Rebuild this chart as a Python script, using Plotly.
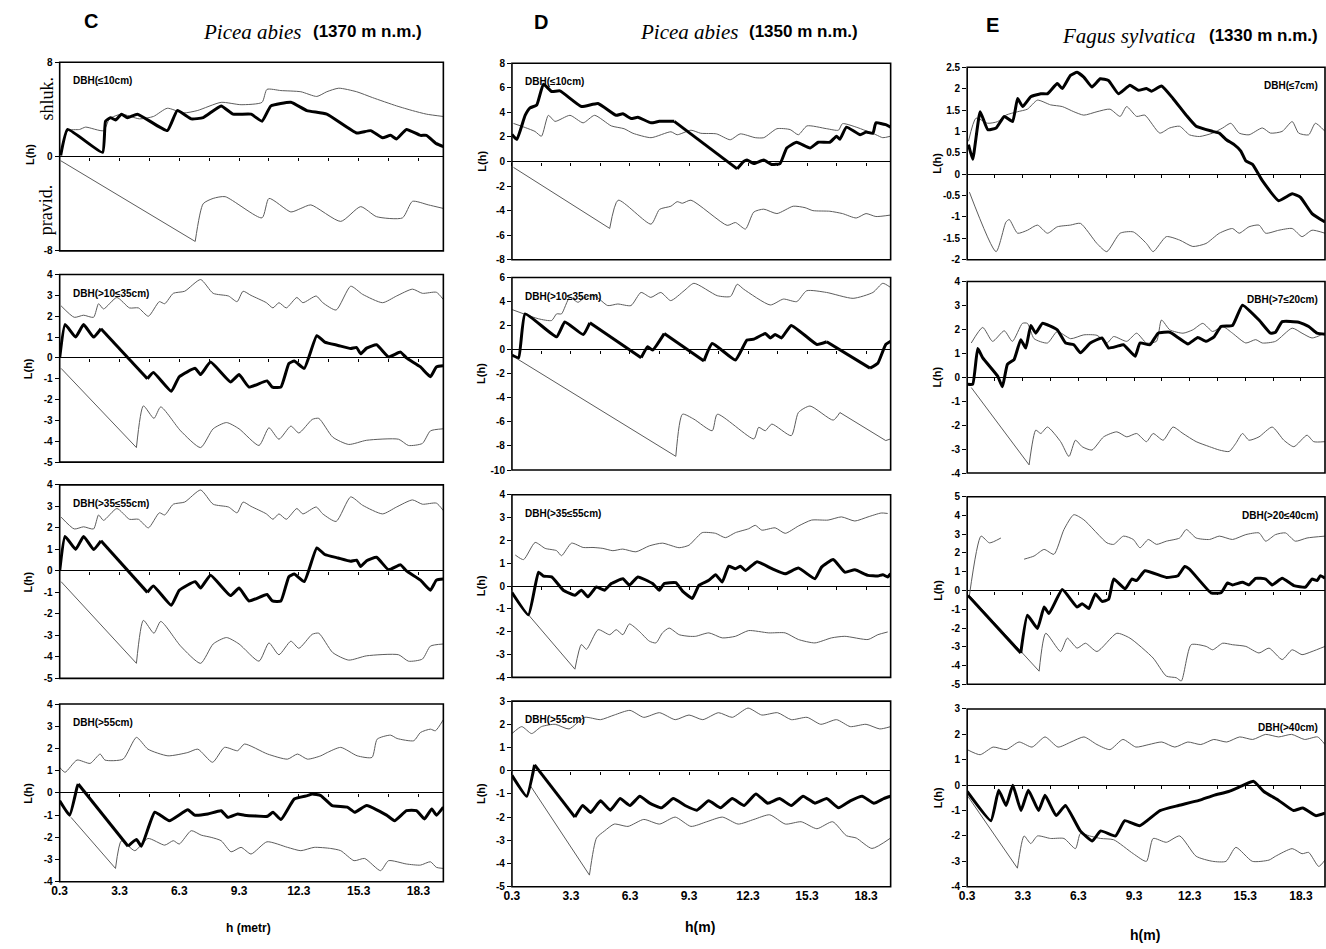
import plotly.graph_objects as go

W, H = 1326, 949
SANS = "Liberation Sans, Arial, sans-serif"
SERIF = "Liberation Serif, Times New Roman, serif"

# ---------------- data (h in metres, L(h)) ----------------
# Column C : Picea abies (1370 m n.m.)
C1_L_x = [0.35, 0.7, 2.45, 2.6, 2.85, 3.1, 3.4, 3.7, 4.2, 5.7, 6.2, 6.9, 7.5, 8.4, 9.0, 9.9, 10.45, 10.9, 11.9, 12.7, 13.7, 15.2, 15.9, 16.5, 16.9, 17.2, 17.7, 18.4, 18.7, 19.2, 19.55]
C1_L_y = [0.1, 2.3, 0.35, 3.0, 3.3, 3.1, 3.6, 3.3, 3.6, 2.2, 3.9, 3.2, 3.3, 4.3, 3.6, 3.6, 3.0, 4.3, 4.6, 3.9, 3.6, 2.0, 2.2, 1.6, 1.8, 1.5, 2.3, 1.8, 1.8, 1.1, 0.85]
C1_up_x = [0.4, 0.7, 1.3, 1.6, 2.5, 2.8, 3.4, 4.3, 5.0, 5.7, 6.5, 7.2, 8.4, 9.4, 10.45, 10.7, 11.4, 12.4, 13.2, 13.7, 14.3, 15.2, 16.0, 17.2, 18.0, 18.7, 19.55]
C1_up_y = [0.5, 2.2, 2.3, 2.5, 2.2, 3.2, 3.6, 3.2, 3.4, 4.1, 3.7, 3.9, 4.6, 4.4, 4.6, 5.7, 5.6, 5.5, 5.1, 5.5, 5.8, 5.5, 5.0, 4.3, 3.9, 3.6, 3.4]
C1_lo_x = [0.35, 7.1, 7.5, 8.0, 8.6, 10.45, 10.8, 11.9, 12.4, 12.9, 14.4, 15.4, 16.2, 17.5, 18.0, 18.8, 19.55]
C1_lo_y = [-0.35, -7.2, -4.0, -3.55, -3.4, -5.2, -3.55, -4.7, -4.4, -4.1, -5.5, -4.25, -5.1, -5.2, -3.8, -4.1, -4.4]

C2_L_x = [0.3, 0.57, 1.1, 1.5, 2.0, 2.37, 4.7, 5.0, 5.9, 6.3, 7.1, 7.37, 7.87, 8.87, 9.3, 9.8, 10.7, 10.97, 11.4, 11.8, 12.07, 12.57, 13.2, 13.6, 14.27, 14.9, 15.2, 15.4, 15.7, 16.2, 16.8, 17.4, 17.7, 18.4, 18.9, 19.2, 19.55]
C2_L_y = [0, 1.6, 1.0, 1.6, 1.0, 1.4, -1.0, -0.7, -1.6, -0.9, -0.5, -0.8, -0.2, -1.15, -0.8, -1.4, -1.1, -1.4, -1.4, -0.27, -0.15, -0.5, 1.07, 0.76, 0.6, 0.45, 0.5, 0.2, 0.47, 0.63, 0.05, 0.28, 0, -0.43, -0.9, -0.43, -0.38]
C2_up_x = [0.37, 1.03, 1.5, 2.0, 2.25, 2.5, 3.17, 3.8, 4.25, 4.75, 5.3, 5.57, 6.0, 6.57, 7.37, 8.0, 8.77, 9.2, 9.5, 9.9, 10.67, 11.0, 11.3, 11.67, 12.2, 12.5, 13.17, 13.5, 14.17, 14.9, 15.5, 16.5, 17.2, 18.0, 18.5, 19.2, 19.55]
C2_up_y = [2.5, 1.95, 2.05, 1.95, 2.6, 2.35, 2.9, 2.4, 2.4, 2.0, 2.7, 2.6, 3.1, 3.2, 3.76, 3.1, 2.97, 2.7, 3.2, 3.0, 2.65, 2.4, 2.65, 2.4, 2.9, 2.65, 2.97, 2.65, 2.3, 3.44, 3.05, 2.65, 2.97, 3.3, 3.1, 3.15, 2.8]
C2_lo_x = [0.37, 4.15, 4.5, 5.03, 5.37, 6.37, 7.37, 8.0, 8.67, 9.3, 10.3, 10.8, 11.3, 11.9, 12.3, 12.97, 13.3, 14.0, 14.8, 15.7, 17.3, 17.8, 18.5, 18.9, 19.55]
C2_lo_y = [-0.5, -4.3, -2.3, -2.9, -2.35, -3.5, -4.3, -3.4, -3.1, -3.4, -4.2, -3.35, -3.9, -3.27, -3.6, -2.95, -2.9, -3.8, -4.15, -3.95, -3.9, -4.2, -4.1, -3.5, -3.4]

# the third C panel repeats the second one in the source figure
C3_L_x, C3_L_y = C2_L_x, C2_L_y
C3_up_x, C3_up_y = C2_up_x, C2_up_y
C3_lo_x, C3_lo_y = C2_lo_x, C2_lo_y

C4_L_x = [0.3, 0.8, 1.17, 1.23, 3.73, 4.15, 4.4, 5.07, 5.8, 6.73, 7.07, 7.73, 8.4, 8.73, 9.23, 9.57, 10.73, 11.0, 11.4, 12.07, 12.73, 12.97, 13.4, 13.97, 14.73, 15.1, 15.7, 16.7, 17.1, 17.7, 18.2, 18.6, 18.97, 19.2, 19.55]
C4_L_y = [-0.35, -1.0, 0.25, 0.4, -2.4, -2.1, -2.4, -0.87, -1.25, -0.76, -1.0, -0.95, -0.8, -1.1, -0.95, -1.0, -1.05, -0.87, -1.2, -0.27, -0.12, -0.05, -0.12, -0.57, -0.64, -0.87, -0.57, -1.0, -1.25, -0.8, -0.8, -1.17, -0.72, -1.0, -0.64]
C4_up_x = [0.3, 0.57, 1.17, 1.83, 2.33, 2.57, 3.48, 4.15, 4.73, 5.73, 6.73, 7.23, 7.97, 8.57, 9.23, 9.57, 10.73, 11.73, 12.23, 12.73, 13.4, 13.73, 14.4, 15.23, 15.97, 16.23, 16.9, 17.23, 18.07, 18.4, 18.9, 19.15, 19.55]
C4_up_y = [1.15, 0.93, 1.48, 1.33, 1.75, 1.48, 1.52, 2.5, 1.97, 1.67, 1.82, 1.97, 1.38, 2.05, 1.9, 2.2, 1.75, 1.52, 1.75, 1.52, 1.67, 1.82, 2.05, 1.67, 1.6, 2.42, 2.6, 2.45, 2.35, 2.72, 2.87, 2.8, 3.3]
C4_lo_x = [0.87, 3.1, 3.4, 4.07, 4.73, 5.57, 6.0, 6.3, 6.9, 7.4, 7.9, 8.4, 8.9, 9.4, 9.9, 10.7, 11.73, 12.4, 13.07, 13.9, 14.4, 15.07, 15.6, 16.4, 16.8, 17.7, 18.4, 18.9, 19.2, 19.55]
C4_lo_y = [-1.1, -3.4, -2.15, -2.6, -2.05, -2.35, -2.15, -2.3, -1.7, -1.9, -2.0, -2.15, -2.65, -2.45, -2.75, -2.2, -2.45, -2.6, -2.45, -2.5, -2.6, -3.05, -2.95, -3.5, -3.05, -3.2, -3.25, -3.1, -3.35, -3.4]

# Column D : Picea abies (1350 m n.m.)
D1_L_x = [0.3, 0.55, 0.97, 1.22, 1.56, 1.9, 2.32, 2.74, 3.83, 4.67, 5.6, 5.94, 6.36, 6.7, 7.37, 7.79, 8.55, 11.75, 12.08, 12.25, 12.59, 13.1, 13.5, 13.93, 14.27, 14.77, 15.45, 15.87, 16.46, 16.8, 16.97, 17.3, 18.0, 18.3, 18.65, 18.8, 19.3, 19.55]
D1_L_y = [2.2, 1.8, 3.75, 4.36, 4.6, 6.3, 5.7, 5.75, 4.48, 4.73, 3.76, 3.88, 3.5, 3.6, 3.15, 3.27, 3.27, -0.6, 0, 0.12, -0.17, 0.12, -0.24, -0.17, 1.1, 1.57, 1.1, 1.57, 1.57, 2.06, 1.82, 2.8, 2.18, 2.4, 2.3, 3.15, 3.0, 2.8]
D1_up_x = [0.38, 1.0, 1.47, 1.8, 2.15, 2.49, 3.25, 3.92, 4.5, 5.35, 6.0, 6.45, 7.37, 8.38, 8.7, 9.4, 9.9, 10.7, 11.4, 11.9, 12.67, 13.1, 13.77, 14.44, 14.86, 15.3, 16.3, 16.9, 17.1, 17.8, 18.8, 19.15, 19.55]
D1_up_y = [3.1, 2.75, 2.45, 2.06, 3.76, 3.27, 3.76, 3.15, 3.76, 2.9, 2.67, 2.3, 1.94, 2.42, 2.18, 2.55, 2.3, 2.25, 1.77, 2.25, 1.94, 1.94, 2.67, 2.6, 2.18, 2.9, 2.67, 2.55, 3.08, 2.8, 2.18, 1.94, 2.06]
D1_lo_x = [0.38, 5.27, 5.7, 7.37, 7.8, 8.38, 8.7, 8.96, 9.4, 11.24, 11.66, 12.17, 12.59, 13.1, 13.77, 14.6, 15.2, 15.6, 16.46, 17.1, 17.8, 18.3, 18.8, 19.55]
D1_lo_y = [-0.48, -5.45, -3.15, -5.1, -3.9, -3.64, -3.27, -3.4, -3.15, -5.2, -4.97, -5.5, -4.12, -3.88, -4.24, -3.64, -3.76, -4.0, -4.05, -4.24, -4.6, -4.24, -4.48, -4.36]

D2_L_x = [0.3, 0.64, 0.97, 2.57, 2.99, 3.92, 4.26, 6.87, 7.2, 7.45, 8.04, 10.06, 10.48, 11.66, 12.25, 12.6, 13.18, 13.43, 13.68, 14.0, 14.5, 15.8, 16.3, 18.5, 18.9, 19.3, 19.55]
D2_L_y = [-0.44, -0.66, 2.98, 1.07, 2.3, 1.26, 2.24, -0.66, 0.25, -0.03, 1.34, -0.93, 0.52, -0.85, 0.8, 0.88, 1.34, 0.98, 1.26, 0.98, 2.02, 0.44, 0.66, -1.53, -1.12, 0.44, 0.7]
D2_up_x = [0.3, 1.65, 2.32, 2.57, 2.82, 3.24, 3.66, 4.0, 4.5, 5.17, 5.68, 6.35, 6.86, 7.36, 7.87, 8.37, 9.05, 9.55, 10.74, 11.41, 11.75, 12.08, 13.43, 14.1, 14.78, 15.28, 16.29, 17.64, 18.65, 19.15, 19.55]
D2_up_y = [3.34, 2.57, 2.43, 2.98, 2.98, 4.35, 3.94, 4.35, 4.49, 3.67, 3.8, 3.67, 4.76, 4.35, 4.76, 4.08, 4.9, 5.52, 4.49, 4.43, 5.44, 5.03, 3.72, 4.21, 4.0, 4.9, 4.76, 4.27, 4.76, 5.52, 5.17]
D2_lo_x = [0.47, 8.63, 8.97, 9.55, 10.48, 10.74, 12.6, 12.84, 13.18, 13.51, 14.5, 14.86, 15.45, 16.63, 16.97, 19.3, 19.55]
D2_lo_y = [-0.66, -8.86, -5.36, -5.77, -6.73, -5.36, -7.41, -6.45, -6.73, -6.18, -7.14, -5.22, -4.68, -5.85, -5.22, -7.55, -7.41]

D3_L_x = [0.3, 1.14, 1.65, 1.9, 2.32, 2.91, 3.5, 3.83, 4.17, 4.59, 5.01, 5.35, 5.94, 6.27, 6.7, 7.45, 7.79, 8.04, 8.63, 8.97, 9.47, 9.81, 10.31, 10.65, 10.99, 11.32, 11.66, 11.92, 12.17, 12.76, 13.52, 14.19, 14.86, 15.7, 16.04, 16.63, 17.22, 17.73, 18.4, 18.9, 19.15, 19.4, 19.55]
D3_L_y = [-0.28, -1.26, 0.61, 0.44, 0.4, -0.18, -0.4, -0.18, -0.47, -0.04, -0.18, 0.11, 0.32, 0.04, 0.4, 0.11, -0.18, 0.11, 0.15, -0.22, -0.54, 0.04, 0.25, 0.5, 0.18, 0.87, 0.76, 0.87, 0.68, 1.07, 0.76, 0.54, 0.79, 0.32, 0.83, 1.16, 0.61, 0.71, 0.47, 0.44, 0.5, 0.4, 0.54]
D3_up_x = [0.47, 0.89, 1.48, 1.99, 2.57, 2.82, 3.33, 3.92, 4.42, 4.92, 5.43, 5.93, 6.6, 7.28, 7.95, 8.8, 9.3, 9.64, 9.97, 10.65, 11.15, 11.66, 12.33, 12.67, 13.0, 13.68, 14.19, 14.86, 15.53, 16.37, 17.05, 17.73, 18.4, 19.07, 19.4]
D3_up_y = [1.36, 1.16, 1.91, 1.65, 1.55, 1.33, 1.88, 1.69, 1.69, 1.65, 1.55, 1.62, 1.5, 1.76, 1.88, 1.68, 1.79, 2.08, 2.34, 2.31, 2.12, 2.34, 2.51, 2.66, 2.45, 2.55, 2.31, 2.63, 2.89, 2.89, 3.03, 2.85, 3.03, 3.2, 3.18]
D3_lo_x = [1.14, 3.5, 3.83, 4.09, 4.68, 5.27, 5.6, 5.94, 6.27, 6.77, 7.28, 7.62, 7.95, 8.29, 8.8, 9.3, 9.64, 10.31, 10.99, 11.66, 12.33, 13.35, 14.19, 14.86, 15.7, 16.54, 17.22, 18.4, 18.9, 19.4]
D3_lo_y = [-1.26, -3.64, -2.56, -2.77, -1.91, -2.13, -1.91, -2.13, -1.66, -1.98, -2.41, -2.49, -2.05, -1.84, -2.13, -2.2, -2.2, -2.05, -2.27, -2.2, -1.95, -2.05, -2.05, -2.34, -2.49, -2.27, -2.2, -2.34, -2.13, -2.01]

D4_L_x = [0.3, 1.05, 1.45, 3.5, 3.9, 4.3, 4.8, 5.3, 5.8, 6.3, 6.8, 7.3, 7.9, 8.5, 9.1, 9.7, 10.3, 10.9, 11.5, 12.1, 12.7, 13.3, 13.9, 14.5, 15.1, 15.7, 16.3, 16.9, 17.5, 18.1, 18.7, 19.2, 19.55]
D4_L_y = [-0.2, -1.1, 0.25, -2.0, -1.5, -1.8, -1.3, -1.7, -1.2, -1.5, -1.1, -1.4, -1.6, -1.2, -1.5, -1.7, -1.3, -1.6, -1.2, -1.5, -1.0, -1.4, -1.2, -1.5, -1.1, -1.4, -1.2, -1.6, -1.3, -1.1, -1.4, -1.2, -1.1]
D4_up_x = [0.3, 0.8, 1.3, 1.8, 2.5, 3.2, 4.0, 4.8, 5.5, 6.3, 7.0, 7.8, 8.6, 9.3, 10.0, 10.8, 11.5, 12.3, 13.0, 13.8, 14.5, 15.3, 16.0, 16.8, 17.5, 18.3, 19.0, 19.55]
D4_up_y = [1.6, 1.9, 1.6, 1.9, 2.0, 1.8, 2.3, 2.2, 2.4, 2.6, 2.3, 2.5, 2.2, 2.4, 2.2, 2.5, 2.3, 2.7, 2.4, 2.5, 2.2, 2.3, 2.0, 2.2, 1.9, 2.0, 1.8, 1.9]
D4_lo_x = [1.2, 4.24, 4.6, 5.0, 5.5, 6.2, 7.0, 7.8, 8.6, 9.4, 10.2, 11.0, 11.8, 12.6, 13.4, 14.2, 15.0, 15.8, 16.6, 17.3, 17.8, 18.6, 19.55]
D4_lo_y = [-0.6, -4.5, -2.9, -2.6, -2.3, -2.4, -2.1, -2.3, -2.0, -2.4, -2.2, -2.0, -2.3, -2.1, -1.9, -2.3, -2.2, -2.5, -2.2, -2.8, -2.9, -3.35, -2.9]

# Column E : Fagus sylvatica (1330 m n.m.)
E1_L_x = [0.37, 0.6, 1.0, 1.41, 1.86, 2.3, 2.75, 3.02, 3.29, 3.73, 4.27, 4.63, 5.16, 5.43, 5.87, 6.23, 6.59, 7.03, 7.48, 7.92, 8.46, 9.08, 9.53, 9.97, 10.24, 10.78, 11.4, 12.11, 12.65, 13.54, 13.9, 14.26, 14.7, 15.06, 15.33, 15.69, 16.22, 17.11, 17.83, 18.27, 18.9, 19.6]
E1_L_y = [0.69, 0.35, 1.46, 1.04, 1.08, 1.35, 1.23, 1.77, 1.58, 1.81, 1.88, 1.88, 2.12, 2.0, 2.31, 2.38, 2.27, 2.04, 2.23, 2.19, 1.88, 2.08, 1.96, 2.0, 1.94, 2.06, 1.77, 1.38, 1.12, 1.0, 0.96, 0.81, 0.69, 0.54, 0.31, 0.23, -0.15, -0.62, -0.46, -0.54, -0.92, -1.12]
E1_up_x = [0.37, 0.78, 1.41, 1.95, 2.39, 3.02, 3.55, 4.09, 4.8, 5.43, 6.05, 6.59, 7.3, 8.0, 8.55, 8.9, 9.44, 9.88, 10.69, 11.22, 11.76, 12.29, 12.83, 13.54, 14.08, 14.52, 14.97, 15.5, 16.22, 16.66, 17.29, 17.83, 18.18, 18.72, 19.08, 19.6]
E1_up_y = [0.77, 1.31, 1.19, 1.23, 1.38, 1.46, 1.52, 1.73, 1.62, 1.58, 1.46, 1.38, 1.46, 1.52, 1.35, 1.58, 1.35, 1.38, 0.96, 1.08, 1.12, 0.92, 0.88, 0.96, 1.08, 1.19, 0.96, 0.92, 1.08, 0.96, 1.0, 1.23, 0.96, 0.92, 1.19, 1.0]
E1_lo_x = [0.42, 1.86, 2.39, 2.57, 3.02, 3.55, 4.09, 4.63, 5.16, 5.87, 6.41, 7.3, 7.83, 8.55, 9.26, 9.97, 10.33, 11.04, 11.76, 12.47, 13.18, 13.9, 14.61, 14.97, 15.5, 16.04, 16.4, 17.11, 17.83, 18.36, 18.9, 19.6]
E1_lo_y = [-0.42, -1.81, -1.12, -1.06, -1.38, -1.31, -1.19, -1.38, -1.23, -1.19, -1.15, -1.62, -1.81, -1.38, -1.35, -1.62, -1.81, -1.46, -1.54, -1.69, -1.62, -1.38, -1.27, -1.38, -1.23, -1.19, -1.38, -1.31, -1.27, -1.46, -1.31, -1.38]

E2_L_x = [0.34, 0.6, 0.87, 1.14, 1.94, 2.2, 2.47, 2.83, 3.19, 3.46, 3.73, 4.0, 4.36, 5.16, 5.61, 6.05, 6.41, 6.94, 7.57, 7.93, 8.37, 8.73, 9.36, 9.62, 10.16, 10.6, 11.23, 11.67, 12.21, 12.74, 13.19, 13.63, 13.99, 14.61, 15.15, 16.04, 16.66, 16.93, 17.29, 18.18, 18.72, 19.17, 19.6]
E2_L_y = [-0.29, -0.29, 1.2, 0.81, 0.05, -0.4, 0.54, 0.74, 1.57, 1.22, 2.16, 1.84, 2.25, 1.98, 1.43, 1.36, 1.02, 1.43, 1.64, 1.22, 1.29, 1.36, 0.88, 1.43, 1.36, 1.84, 1.88, 1.66, 1.39, 1.66, 1.5, 1.7, 2.12, 2.16, 3.01, 2.39, 1.84, 1.88, 2.32, 2.3, 2.12, 1.84, 1.8]
E2_up_x = [0.52, 1.14, 1.67, 2.3, 2.74, 3.28, 3.55, 3.91, 4.63, 5.16, 5.88, 6.59, 7.3, 7.84, 8.2, 8.91, 9.44, 9.97, 10.51, 10.78, 11.23, 11.94, 12.47, 13.01, 13.54, 14.08, 14.61, 15.33, 15.86, 16.22, 16.93, 17.83, 18.36, 18.9, 19.6]
E2_up_y = [1.43, 2.08, 1.5, 1.94, 1.5, 2.25, 2.25, 1.61, 1.43, 1.91, 1.61, 1.77, 1.75, 1.43, 1.7, 1.5, 1.84, 1.43, 1.5, 2.39, 1.98, 1.84, 1.98, 2.25, 1.91, 2.12, 1.84, 1.43, 1.57, 1.43, 1.5, 2.05, 1.84, 1.64, 1.84]
E2_lo_x = [0.52, 3.64, 4.0, 4.27, 4.63, 5.34, 5.79, 6.14, 6.5, 7.03, 7.66, 8.37, 8.91, 9.44, 9.97, 10.33, 10.87, 11.4, 11.94, 12.65, 13.37, 13.9, 14.43, 14.79, 15.15, 15.5, 16.04, 16.75, 17.38, 17.92, 18.63, 18.99, 19.6]
E2_lo_y = [-0.43, -3.66, -2.21, -2.35, -2.08, -2.69, -3.31, -2.63, -2.9, -3.04, -2.49, -2.28, -2.49, -2.35, -2.69, -2.35, -2.63, -2.08, -2.35, -2.69, -2.9, -3.04, -3.1, -2.76, -2.35, -2.63, -2.49, -2.08, -2.63, -2.9, -2.42, -2.69, -2.69]

E3_L_x = [0.34, 3.19, 3.55, 4.09, 4.45, 4.71, 5.43, 6.23, 6.5, 6.86, 7.21, 7.57, 7.93, 8.2, 8.82, 9.18, 9.44, 9.89, 11.04, 11.67, 12.03, 12.29, 13.45, 13.99, 14.34, 14.61, 15.15, 15.5, 15.86, 16.4, 16.75, 17.29, 17.92, 18.54, 18.9, 19.17, 19.35, 19.6]
E3_L_y = [-0.26, -3.33, -1.32, -2.02, -0.88, -1.23, 0.05, -0.88, -0.7, -0.96, -0.18, -0.58, -0.47, 0.61, 0.09, 0.61, 0.53, 1.05, 0.7, 0.79, 1.28, 1.14, -0.12, -0.12, 0.4, 0.3, 0.44, 0.3, 0.65, 0.61, 0.3, 0.65, 0.26, 0.18, 0.61, 0.53, 0.79, 0.65]
E3_up_x = [0.42, 1.05, 1.5, 2.12, 2.7, 3.37, 3.91, 4.45, 4.98, 5.52, 6.05, 6.59, 7.84, 8.2, 8.73, 9.26, 9.62, 10.07, 10.51, 11.04, 11.76, 12.12, 12.65, 13.37, 13.9, 14.61, 15.33, 16.04, 16.4, 16.93, 17.47, 18.0, 18.63, 19.6]
E3_up_y = [-0.26, 2.9, 2.54, 2.8, None, 1.67, 1.84, 2.19, 1.93, 3.25, 4.04, 3.77, 2.54, 2.46, 2.9, 2.72, 2.28, 2.72, 2.46, 2.63, 2.8, 3.25, 2.8, 2.72, 2.9, 2.72, 2.98, 3.07, 2.63, 2.98, 3.07, 2.63, 2.8, 2.9]
E3_lo_x = [0.42, 4.18, 4.54, 5.34, 5.7, 6.23, 6.68, 7.3, 8.37, 9.08, 10.33, 11.04, 11.58, 11.85, 12.38, 13.19, 13.54, 14.08, 14.61, 15.33, 16.04, 16.58, 17.29, 17.83, 18.36, 18.9, 19.6]
E3_lo_y = [-0.26, -4.3, -2.28, -3.25, -2.54, -3.07, -2.81, -3.25, -2.28, -2.54, -3.6, -4.56, -4.65, -4.82, -2.89, -2.98, -3.16, -2.81, -2.89, -2.98, -3.33, -3.07, -3.68, -3.16, -3.42, -3.25, -2.98]

E4_L_x = [0.3, 1.58, 2.0, 2.4, 2.76, 3.2, 3.6, 4.15, 4.5, 5.1, 5.6, 6.4, 7.05, 7.5, 8.3, 8.8, 9.6, 10.7, 11.7, 12.8, 13.6, 14.4, 15.2, 15.75, 16.3, 17.1, 17.9, 18.4, 19.1, 19.6]
E4_L_y = [-0.25, -1.4, -0.2, -0.8, 0, -1.0, -0.2, -1.0, -0.4, -1.2, -0.8, -1.8, -2.2, -1.8, -2.0, -1.4, -1.6, -1.0, -0.8, -0.6, -0.4, -0.25, 0, 0.15, -0.25, -0.6, -1.0, -0.9, -1.2, -1.1]
E4_up_x = [0.3, 1.0, 1.7, 2.4, 3.1, 3.8, 4.5, 5.2, 5.9, 6.6, 7.3, 8.0, 8.7, 9.4, 10.1, 10.8, 11.5, 12.2, 12.9, 13.6, 14.3, 15.0, 15.7, 16.4, 17.1, 17.8, 18.5, 19.2, 19.6]
E4_up_y = [1.4, 1.2, 1.5, 1.4, 1.7, 1.5, 1.9, 1.5, 1.7, 1.9, 1.6, 1.4, 1.8, 1.5, 1.6, 1.7, 1.5, 1.7, 1.6, 1.8, 1.7, 1.9, 1.8, 2.0, 1.9, 2.0, 1.8, 1.9, 1.6]
E4_lo_x = [0.3, 3.01, 3.37, 3.73, 4.09, 4.8, 5.52, 6.14, 6.41, 6.9, 7.5, 8.2, 9.26, 9.97, 10.33, 11.04, 11.76, 12.65, 13.54, 14.26, 14.79, 15.68, 16.58, 16.93, 17.83, 18.36, 18.72, 19.26, 19.6]
E4_lo_y = [-0.4, -3.27, -2.0, -2.3, -2.0, -2.1, -2.1, -2.5, -1.9, -2.0, -2.1, -2.15, -2.7, -3.0, -2.1, -2.25, -2.0, -2.8, -3.0, -3.0, -2.45, -3.0, -2.95, -2.8, -2.5, -2.7, -2.65, -3.2, -2.95]

X_TICKS = [0.3, 3.3, 6.3, 9.3, 12.3, 15.3, 18.3]
Y_RANGES = [
    [(-8, 8), (-5, 4), (-5, 4), (-4, 4)],
    [(-8, 8), (-10, 6), (-4, 4), (-5, 3)],
    [(-2, 2.5), (-4, 4), (-5, 5), (-4, 3)],
]
Y_STEPS = [[8, 1, 1, 1], [2, 2, 1, 1], [0.5, 1, 1, 1]]
DBH_LABELS = [
    ["DBH(≤10cm)", "DBH(>10≤35cm)", "DBH(>35≤55cm)", "DBH(>55cm)"],
    ["DBH(≤10cm)", "DBH(>10≤35cm)", "DBH(>35≤55cm)", "DBH(>55cm)"],
    ["DBH(≤7cm)", "DBH(>7≤20cm)", "DBH(>20≤40cm)", "DBH(>40cm)"],
]
LETTERS = ["C", "D", "E"]
SPECIES = ["Picea abies", "Picea abies", "Fagus sylvatica"]
ALTITUDES = ["(1370 m n.m.)", "(1350 m n.m.)", "(1330 m n.m.)"]
XTITLES = ["h (metr)", "h(m)", "h(m)"]

SERIES = {
    (0, 0): (C1_up_x, C1_up_y, C1_lo_x, C1_lo_y, C1_L_x, C1_L_y),
    (0, 1): (C2_up_x, C2_up_y, C2_lo_x, C2_lo_y, C2_L_x, C2_L_y),
    (0, 2): (C3_up_x, C3_up_y, C3_lo_x, C3_lo_y, C3_L_x, C3_L_y),
    (0, 3): (C4_up_x, C4_up_y, C4_lo_x, C4_lo_y, C4_L_x, C4_L_y),
    (1, 0): (D1_up_x, D1_up_y, D1_lo_x, D1_lo_y, D1_L_x, D1_L_y),
    (1, 1): (D2_up_x, D2_up_y, D2_lo_x, D2_lo_y, D2_L_x, D2_L_y),
    (1, 2): (D3_up_x, D3_up_y, D3_lo_x, D3_lo_y, D3_L_x, D3_L_y),
    (1, 3): (D4_up_x, D4_up_y, D4_lo_x, D4_lo_y, D4_L_x, D4_L_y),
    (2, 0): (E1_up_x, E1_up_y, E1_lo_x, E1_lo_y, E1_L_x, E1_L_y),
    (2, 1): (E2_up_x, E2_up_y, E2_lo_x, E2_lo_y, E2_L_x, E2_L_y),
    (2, 2): (E3_up_x, E3_up_y, E3_lo_x, E3_lo_y, E3_L_x, E3_L_y),
    (2, 3): (E4_up_x, E4_up_y, E4_lo_x, E4_lo_y, E4_L_x, E4_L_y),
}

# ---------------- layout geometry (pixels) ----------------
COL_X = [(52, 438), (507, 888), (965, 1325)]
ROW_Y = [
    [(57, 248), (272, 462), (485, 681), (707, 887)],
    [(58, 257), (275, 470), (495, 680), (704, 892)],
    [(62, 257), (279, 473), (497, 687), (712, 892)],
]
X_RANGES = [(0.3, 19.55), (0.3, 19.55), (0.3, 19.6)]
YTITLE_X = [20, 476, 935]
ENV_COLOR = "#5c5c5c"
LONG_STEP = 2.0   # segments longer than this (in m) are drawn straight


def px(x):
    return x / W


def py(y):
    return 1 - y / H


def ax_id(letter, k):
    return letter if k == 1 else f"{letter}{k}"


def note(text, x, y, size, family=SANS, angle=0, xanchor="center"):
    return dict(text=text, xref="paper", yref="paper", x=px(x), y=py(y),
                xanchor=xanchor, yanchor="middle", textangle=angle, showarrow=False,
                font=dict(family=family, size=size, color="black"))


def add_curve(fig, xs, ys, xa, ya, color, width, smoothing):
    """Smooth wiggly runs, but draw long straight stretches as straight segments."""
    run_x, run_y = [xs[0]], [ys[0]]
    pieces = []
    for i in range(1, len(xs)):
        if xs[i] - xs[i - 1] > LONG_STEP and ys[i] is not None and ys[i - 1] is not None:
            if len(run_x) > 1:
                pieces.append((run_x, run_y, "spline"))
            pieces.append(([xs[i - 1], xs[i]], [ys[i - 1], ys[i]], "linear"))
            run_x, run_y = [xs[i]], [ys[i]]
        else:
            run_x.append(xs[i])
            run_y.append(ys[i])
    if len(run_x) > 1:
        pieces.append((run_x, run_y, "spline"))
    for px_, py_, shape in pieces:
        line = dict(color=color, width=width, shape=shape)
        if shape == "spline":
            line["smoothing"] = smoothing
        fig.add_trace(go.Scatter(x=px_, y=py_, xaxis=xa, yaxis=ya, mode="lines",
                                 line=line, connectgaps=False, hoverinfo="skip"))


fig = go.Figure()
layout = dict(
    width=W, height=H, margin=dict(l=0, r=0, t=0, b=0),
    paper_bgcolor="white", plot_bgcolor="white", showlegend=False,
    font=dict(family=SANS, color="black"),
)
shapes, annotations = [], []

for c in range(3):
    for r in range(4):
        k = c * 4 + r + 1
        xa, ya = ax_id("x", k), ax_id("y", k)
        xkey = "xaxis" if k == 1 else f"xaxis{k}"
        ykey = "yaxis" if k == 1 else f"yaxis{k}"
        l, rr = COL_X[c]
        t, b = ROW_Y[c][r]
        y0, y1 = Y_RANGES[c][r]
        step = Y_STEPS[c][r]
        n = int(round((y1 - y0) / step))
        yvals = [round(y0 + i * step, 2) for i in range(n + 1)]
        ytext = [f"{v:g}" for v in yvals]
        zero_pos = py(t + (y1 / (y1 - y0)) * (b - t))

        layout[xkey] = dict(
            domain=[px(l), px(rr)], range=list(X_RANGES[c]), anchor=ya,
            showgrid=False, zeroline=False, showline=False, ticks="",
            tickvals=X_TICKS, ticktext=[f"{v:g}" for v in X_TICKS],
            showticklabels=(r == 3),
            tickfont=dict(family=SANS, size=12, color="black", weight="bold"),
        )
        layout[ykey] = dict(
            domain=[py(b), py(t)], range=[y0, y1], anchor=xa,
            showgrid=False, zeroline=True, zerolinecolor="black", zerolinewidth=1,
            showline=False, ticks="outside", ticklen=4, tickcolor="black",
            tickvals=yvals, ticktext=ytext,
            tickfont=dict(family=SANS, size=10, color="black", weight="bold"),
        )
        # tick marks on the zero line (every 1.5 m)
        kk = 12 + k
        layout[f"xaxis{kk}"] = dict(
            overlaying=xa, anchor="free", position=zero_pos,
            range=list(X_RANGES[c]), showgrid=False, zeroline=False, showline=False,
            ticks="outside", ticklen=3, tickcolor="black", tickwidth=1,
            tick0=0.3, dtick=1.5, showticklabels=False,
        )
        fig.add_trace(go.Scatter(x=[None], y=[None], xaxis=f"x{kk}", yaxis=ya,
                                 hoverinfo="skip", showlegend=False))

        ux, uy, lx, ly, Lx, Ly = SERIES[(c, r)]
        add_curve(fig, ux, uy, xa, ya, ENV_COLOR, 1, 0.6)
        add_curve(fig, lx, ly, xa, ya, ENV_COLOR, 1, 0.6)
        add_curve(fig, Lx, Ly, xa, ya, "black", 3, 0.4)

        shapes.append(dict(type="rect", xref=f"{xa} domain", yref=f"{ya} domain",
                           x0=0, x1=1, y0=0, y1=1, line=dict(color="black", width=1.6),
                           layer="above"))

        dbh = dict(text=f"<b>{DBH_LABELS[c][r]}</b>", xref=f"{xa} domain", yref=f"{ya} domain",
                   y=1, yanchor="top", yshift=-11, showarrow=False,
                   font=dict(family=SANS, size=10, color="black"))
        if c < 2:
            dbh.update(x=0.03, xanchor="left")
        else:
            dbh.update(x=0.985, xanchor="right")
        annotations.append(dbh)

        # y-axis title(s)
        if c == 0 and r == 0:
            annotations.append(note("<b>L(h)</b>", 22, 150, 11, angle=-90))
            annotations.append(note("shluk.", 39, 94, 18, family=SERIF, angle=-90))
            annotations.append(note("pravid.", 39, 207, 18, family=SERIF, angle=-90))
        else:
            annotations.append(note("<b>L(h)</b>", YTITLE_X[c], (t + b) / 2, 11, angle=-90))

# column headers and x-axis titles
LETTER_POS = [(84, 15), (536, 16), (990, 19)]
SPECIES_POS = [(297, 26), (736, 26), (1196, 30)]
ALT_POS = [(305, 26), (743, 26), (1206, 30)]
XTITLE_POS = [(242, 934), (696, 933), (1144, 941)]
XTITLE_SIZE = [12, 14, 14]
for c in range(3):
    annotations.append(note(f"<b>{LETTERS[c]}</b>", LETTER_POS[c][0], LETTER_POS[c][1], 20))
    annotations.append(note(f"<i>{SPECIES[c]}</i>", SPECIES_POS[c][0], SPECIES_POS[c][1], 21,
                            family=SERIF, xanchor="right"))
    annotations.append(note(f"<b>{ALTITUDES[c]}</b>", ALT_POS[c][0], ALT_POS[c][1], 17,
                            xanchor="left"))
    annotations.append(note(f"<b>{XTITLES[c]}</b>", XTITLE_POS[c][0], XTITLE_POS[c][1],
                            XTITLE_SIZE[c]))

layout["shapes"] = shapes
layout["annotations"] = annotations
fig.update_layout(**layout)
fig.write_html("out.html")
